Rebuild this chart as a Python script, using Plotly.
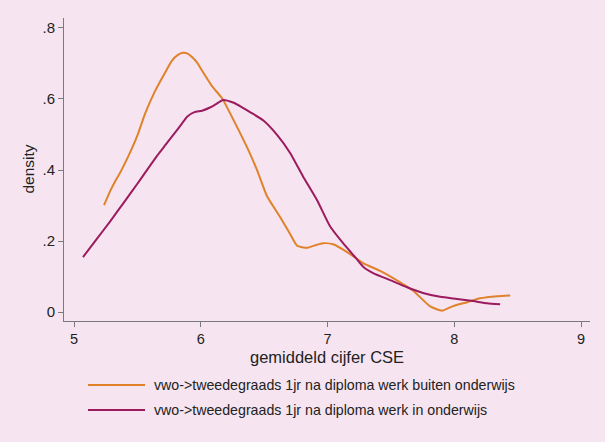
import plotly.graph_objects as go

# Orange: vwo->tweedegraads 1jr na diploma werk buiten onderwijs
x_buiten = [5.237, 5.284, 5.324, 5.363, 5.426, 5.505, 5.560, 5.639, 5.718, 5.773, 5.820, 5.860,
            5.900, 5.931, 5.970, 6.010, 6.089, 6.168, 6.271, 6.373, 6.444, 6.523, 6.626, 6.705,
            6.760, 6.839, 6.900, 6.965, 7.044, 7.155, 7.281, 7.415, 7.518, 7.676, 7.810, 7.904,
            7.991, 8.102, 8.204, 8.339, 8.441]
y_buiten = [0.301, 0.340, 0.368, 0.392, 0.437, 0.502, 0.558, 0.622, 0.674, 0.708, 0.724, 0.730,
            0.727, 0.718, 0.703, 0.680, 0.636, 0.602, 0.532, 0.458, 0.400, 0.326, 0.268, 0.220,
            0.187, 0.181, 0.188, 0.194, 0.191, 0.169, 0.138, 0.116, 0.096, 0.060, 0.016, 0.004,
            0.017, 0.028, 0.039, 0.045, 0.047]

# Purple: vwo->tweedegraads 1jr na diploma werk in onderwijs
x_in = [5.071, 5.180, 5.284, 5.400, 5.497, 5.560, 5.655, 5.720, 5.797, 5.850, 5.892, 5.950,
        6.010, 6.073, 6.113, 6.176, 6.255, 6.320, 6.389, 6.492, 6.602, 6.705, 6.807, 6.918,
        7.021, 7.123, 7.234, 7.281, 7.360, 7.494, 7.628, 7.754, 7.889, 8.023, 8.149, 8.260,
        8.362]
y_in = [0.155, 0.206, 0.255, 0.312, 0.360, 0.392, 0.440, 0.470, 0.505, 0.530, 0.550, 0.563,
        0.567, 0.576, 0.584, 0.597, 0.590, 0.578, 0.563, 0.540, 0.499, 0.448, 0.382, 0.315,
        0.241, 0.194, 0.148, 0.128, 0.110, 0.090, 0.070, 0.054, 0.043, 0.037, 0.031, 0.025,
        0.022]

x_ticks = [5, 6, 7, 8, 9]
x_ticklabels = ["5", "6", "7", "8", "9"]
y_ticks = [0, 0.2, 0.4, 0.6, 0.8]
y_ticklabels = ["0", ".2", ".4", ".6", ".8"]

names = ["vwo->tweedegraads 1jr na diploma werk buiten onderwijs",
         "vwo->tweedegraads 1jr na diploma werk in onderwijs"]
colors = ["#e0822a", "#9c1a5e"]
bg = "#f6e5f0"
axis_col = "#7a7a7a"
txt_col = "#222222"
font = "Liberation Sans, Arial, sans-serif"

fig = go.Figure()
fig.add_trace(go.Scatter(x=x_buiten, y=y_buiten, mode="lines", name=names[0],
                         line=dict(color=colors[0], width=2, shape="spline", smoothing=0.5),
                         showlegend=False))
fig.add_trace(go.Scatter(x=x_in, y=y_in, mode="lines", name=names[1],
                         line=dict(color=colors[1], width=2, shape="spline", smoothing=0.5),
                         showlegend=False))

# manual legend (Stata-style, long line samples)
leg_y = [-0.2112, -0.2937]
for i in range(2):
    fig.add_shape(type="line", xref="paper", yref="paper",
                  x0=0.0456, x1=0.154, y0=leg_y[i], y1=leg_y[i],
                  line=dict(color=colors[i], width=2))
    fig.add_annotation(xref="paper", yref="paper", x=0.1673, y=leg_y[i],
                       text=names[i], showarrow=False, xanchor="left", yanchor="middle",
                       font=dict(family=font, size=14.2, color=txt_col))

# axis titles
fig.add_annotation(xref="paper", yref="paper", x=0.5, y=-0.1188,
                   text="gemiddeld cijfer CSE", showarrow=False,
                   xanchor="center", yanchor="middle",
                   font=dict(family=font, size=16.5, color=txt_col))
fig.add_annotation(xref="paper", yref="paper", x=-0.0684, y=0.5,
                   text="density", showarrow=False, textangle=-90,
                   xanchor="center", yanchor="middle",
                   font=dict(family=font, size=15.5, color=txt_col))

fig.update_layout(
    width=605, height=442,
    margin=dict(l=64, r=15, t=18, b=121),
    paper_bgcolor=bg, plot_bgcolor=bg,
    font=dict(family=font, size=15, color=txt_col),
    xaxis=dict(range=[4.921, 9.071], tickvals=x_ticks, ticktext=x_ticklabels,
               showgrid=False, zeroline=False, showline=True, linecolor=axis_col, linewidth=1,
               ticks="outside", ticklen=5, tickcolor=axis_col, tickfont=dict(size=14.5),
               automargin=False),
    yaxis=dict(range=[-0.025, 0.828], tickvals=y_ticks, ticktext=y_ticklabels,
               showgrid=False, zeroline=False, showline=True, linecolor=axis_col, linewidth=1,
               ticks="outside", ticklen=5, tickcolor=axis_col, tickfont=dict(size=15),
               automargin=False),
)

fig.write_html("out.html", config={"displayModeBar": False},
               post_script="document.body.style.margin='0';document.body.style.background='%s';" % bg)
